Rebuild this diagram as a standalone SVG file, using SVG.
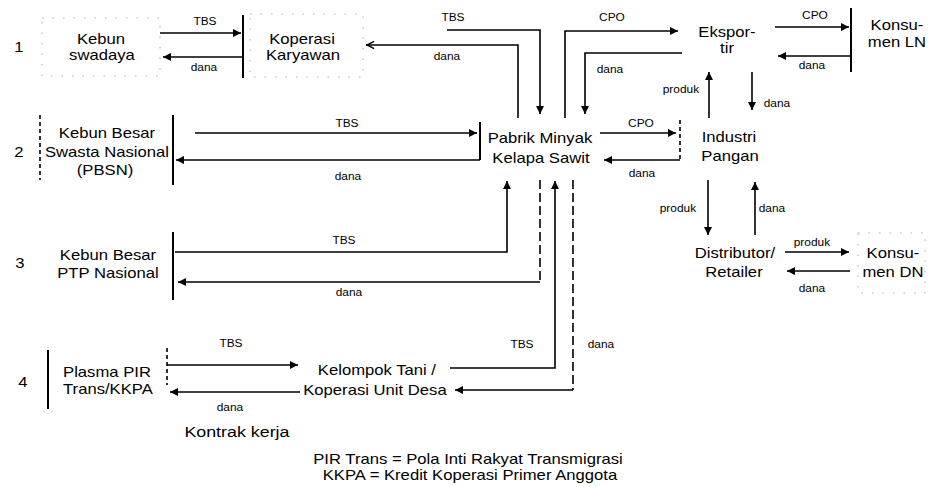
<svg xmlns="http://www.w3.org/2000/svg" width="928" height="487" viewBox="0 0 928 487">
<style>
.ln{fill:none;stroke:#000;stroke-width:1.6}
.dl{fill:none;stroke:#000;stroke-width:1.6;stroke-dasharray:9 4}
.bar{fill:none;stroke:#000;stroke-width:2}
.db{fill:none;stroke:#000;stroke-width:1.6;stroke-dasharray:4 3}
.box{fill:none;stroke:#aaa;stroke-width:1;stroke-dasharray:1.5 9}
.t{font-family:"Liberation Sans",Arial,sans-serif;font-size:14px;text-anchor:middle;fill:#000;transform-box:fill-box;transform-origin:center;transform:scaleX(1.19)}
.s{font-size:10px}
.k{font-size:15px}
</style>
<defs>
<marker id="ah" viewBox="0 0 10 10" refX="10" refY="5" markerWidth="9" markerHeight="8" markerUnits="userSpaceOnUse" orient="auto"><path d="M0,0 L10,5 L0,10 z" fill="#000"/></marker>
<marker id="oh" viewBox="0 0 10 10" refX="10" refY="5" markerWidth="9" markerHeight="9" markerUnits="userSpaceOnUse" orient="auto"><path d="M1,1 L9,5 L1,9" fill="none" stroke="#000" stroke-width="1.6"/></marker>
</defs>
<rect width="928" height="487" fill="#fff"/>

<g id="rownums">
<text class="t" x="19" y="52">1</text>
<text class="t" x="19" y="157">2</text>
<text class="t" x="20" y="268">3</text>
<text class="t" x="23" y="387">4</text>
</g>

<g id="kebun-swadaya">
<rect class="box" x="42" y="18" width="118" height="58"/>
<text class="t" x="101" y="44">Kebun</text>
<text class="t" x="102" y="60">swadaya</text>
</g>

<g id="koperasi-karyawan">
<rect class="box" x="250" y="14" width="113" height="63"/>
<line class="bar" x1="243" y1="15" x2="243" y2="78"/>
<text class="t" x="302" y="44">Koperasi</text>
<text class="t" x="303" y="60">Karyawan</text>
</g>

<g id="eksportir">
<text class="t" x="727" y="37">Ekspor-</text>
<text class="t" x="727" y="53">tir</text>
</g>

<g id="konsumen-ln">
<line class="bar" x1="851" y1="8" x2="851" y2="72"/>
<text class="t" x="897" y="30">Konsu-</text>
<text class="t" x="897" y="47">men LN</text>
</g>

<g id="pbsn">
<line class="db" x1="40" y1="115" x2="40" y2="180"/>
<line class="bar" x1="173" y1="115" x2="173" y2="185"/>
<text class="t" x="107" y="138">Kebun Besar</text>
<text class="t" x="107" y="157">Swasta Nasional</text>
<text class="t" x="105" y="175">(PBSN)</text>
</g>

<g id="pabrik">
<line class="bar" x1="480" y1="122" x2="480" y2="160"/>
<text class="t" x="540" y="143">Pabrik Minyak</text>
<text class="t" x="541" y="163">Kelapa Sawit</text>
</g>

<g id="industri">
<line class="db" x1="680" y1="120" x2="680" y2="160"/>
<text class="t" x="729" y="142">Industri</text>
<text class="t" x="730" y="161">Pangan</text>
</g>

<g id="distributor">
<text class="t" x="735" y="258">Distributor/</text>
<text class="t" x="734" y="277">Retailer</text>
</g>

<g id="konsumen-dn">
<rect class="box" x="858" y="233" width="67" height="60"/>
<text class="t" x="893" y="258">Konsu-</text>
<text class="t" x="893" y="277">men DN</text>
</g>

<g id="ptp">
<line class="bar" x1="173" y1="232" x2="173" y2="300"/>
<text class="t" x="108" y="260">Kebun Besar</text>
<text class="t" x="108" y="278">PTP Nasional</text>
</g>

<g id="plasma">
<line class="bar" x1="48" y1="350" x2="48" y2="409"/>
<line class="db" x1="167" y1="348" x2="167" y2="385"/>
<text class="t" x="107" y="377">Plasma PIR</text>
<text class="t" x="108" y="394">Trans/KKPA</text>
</g>

<g id="kud">
<text class="t" x="377" y="375">Kelompok Tani /</text>
<text class="t" x="375" y="395">Koperasi Unit Desa</text>
</g>

<g id="connectors">
<path class="ln" d="M160,33 H241" marker-end="url(#ah)"/>
<path class="ln" d="M243,57 H163" marker-end="url(#ah)"/>
<path class="ln" d="M518,118 V45 H366" marker-end="url(#oh)"/>
<path class="ln" d="M447,30 H540 V114" marker-end="url(#ah)"/>
<path class="ln" d="M565,118 V31 H678" marker-end="url(#ah)"/>
<path class="ln" d="M682,53 H585 V114" marker-end="url(#ah)"/>
<path class="ln" d="M775,27 H849" marker-end="url(#ah)"/>
<path class="ln" d="M851,56 H778" marker-end="url(#ah)"/>
<path class="ln" d="M709,118 V72" marker-end="url(#ah)"/>
<path class="ln" d="M752,72 V110" marker-end="url(#ah)"/>
<path class="ln" d="M195,133 H477" marker-end="url(#ah)"/>
<path class="ln" d="M480,160 H176" marker-end="url(#ah)"/>
<path class="ln" d="M600,133 H676" marker-end="url(#ah)"/>
<path class="ln" d="M680,160 H604" marker-end="url(#ah)"/>
<path class="ln" d="M708,180 V235" marker-end="url(#ah)"/>
<path class="ln" d="M755,235 V182" marker-end="url(#ah)"/>
<path class="ln" d="M175,252 H507 V181" marker-end="url(#ah)"/>
<path class="dl" d="M540,180 V282"/>
<path class="ln" d="M540,282 H178" marker-end="url(#ah)"/>
<path class="ln" d="M450,368 H555 V181" marker-end="url(#ah)"/>
<path class="dl" d="M573,180 V390"/>
<path class="ln" d="M573,390 H455" marker-end="url(#ah)"/>
<path class="ln" d="M167,365 H298" marker-end="url(#ah)"/>
<path class="ln" d="M300,392 H170" marker-end="url(#ah)"/>
<path class="ln" d="M785,252 H849" marker-end="url(#ah)"/>
<path class="ln" d="M850,271 H787" marker-end="url(#ah)"/>
</g>

<g id="labels">
<text class="t s" x="205" y="25">TBS</text>
<text class="t s" x="204" y="71">dana</text>
<text class="t s" x="447" y="60">dana</text>
<text class="t s" x="453" y="21">TBS</text>
<text class="t s" x="612" y="21">CPO</text>
<text class="t s" x="610" y="73">dana</text>
<text class="t s" x="815" y="19">CPO</text>
<text class="t s" x="812" y="69">dana</text>
<text class="t s" x="681" y="93">produk</text>
<text class="t s" x="777" y="107">dana</text>
<text class="t s" x="347" y="127">TBS</text>
<text class="t s" x="348" y="180">dana</text>
<text class="t s" x="641" y="127">CPO</text>
<text class="t s" x="642" y="177">dana</text>
<text class="t s" x="678" y="212">produk</text>
<text class="t s" x="772" y="212">dana</text>
<text class="t s" x="812" y="246">produk</text>
<text class="t s" x="812" y="292">dana</text>
<text class="t s" x="344" y="244">TBS</text>
<text class="t s" x="349" y="296">dana</text>
<text class="t s" x="522" y="348">TBS</text>
<text class="t s" x="601" y="348">dana</text>
<text class="t s" x="231" y="347">TBS</text>
<text class="t s" x="230" y="411">dana</text>
<text class="t k" x="237" y="437">Kontrak kerja</text>
</g>

<g id="legend">
<text class="t" x="468" y="464">PIR Trans = Pola Inti Rakyat Transmigrasi</text>
<text class="t" x="470" y="480">KKPA = Kredit Koperasi Primer Anggota</text>
</g>
</svg>
